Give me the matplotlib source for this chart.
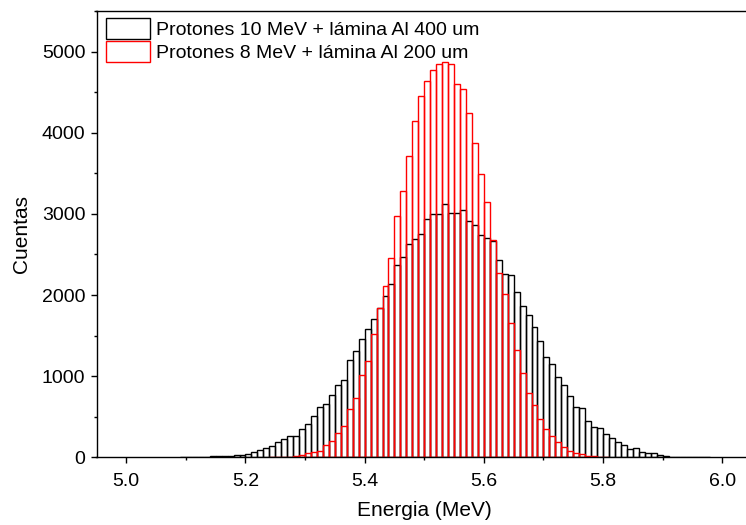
import numpy as np
import matplotlib.pyplot as plt
from matplotlib.ticker import MultipleLocator

plt.rcParams['font.family'] = ['Liberation Sans', 'DejaVu Sans']

bin_width = 0.01

# Protones 10 MeV + lamina Al 400 um, bins starting at 5.09 MeV
e0_black = 5.09
cuentas_black = [2, 3, 4, 6, 8, 10, 12, 18, 20, 25,
                 33, 45, 65, 90, 115, 145, 185, 220, 263, 263,
                 349, 415, 505, 620, 661, 762, 893, 953, 1200, 1311,
                 1455, 1578, 1705, 1837, 1993, 2141, 2367, 2474, 2626, 2688,
                 2750, 2935, 3004, 3004, 3123, 3008, 3008, 3049, 2914, 2864,
                 2741, 2700, 2671, 2429, 2260, 2244, 2040, 1870, 1755, 1603,
                 1434, 1241, 1152, 986, 885, 760, 616, 604, 453, 377,
                 355, 283, 242, 193, 150, 100, 111, 70, 49, 57,
                 33, 16, 8, 4, 8, 4, 2, 1, 1]

# Protones 8 MeV + lamina Al 200 um, bins starting at 5.24 MeV
e0_red = 5.24
cuentas_red = [2, 3, 5, 8, 16, 33, 49, 70, 82, 156,
               205, 296, 388, 598, 725, 1015, 1191, 1522, 1835, 2116,
               2450, 2975, 3280, 3715, 4150, 4447, 4640, 4776, 4850, 4868,
               4843, 4605, 4543, 4237, 3872, 3497, 3148, 2673, 2269, 2010,
               1650, 1319, 1043, 789, 641, 474, 343, 258, 189, 125,
               78, 49, 37, 14, 12, 4, 2]

label_black = 'Protones 10 MeV + lámina Al 400 um'
label_red = 'Protones 8 MeV + lámina Al 200 um'

edges_black = e0_black + bin_width * np.arange(len(cuentas_black))
edges_red = e0_red + bin_width * np.arange(len(cuentas_red))

fig = plt.figure(figsize=(7.46, 5.25), dpi=100)
ax = fig.add_axes([96.5 / 746, 67.7 / 525, 655.5 / 746, 446.3 / 525])

ax.bar(edges_black, cuentas_black, width=bin_width, align='edge',
       fill=False, edgecolor='black', linewidth=1.0, label=label_black)
ax.bar(edges_red, cuentas_red, width=bin_width, align='edge',
       fill=False, edgecolor='red', linewidth=1.0, label=label_red)

ax.set_xlim(4.95, 6.05)
ax.set_ylim(0, 5500)
ax.xaxis.set_major_locator(MultipleLocator(0.2))
ax.xaxis.set_minor_locator(MultipleLocator(0.1))
ax.yaxis.set_major_locator(MultipleLocator(1000))
ax.yaxis.set_minor_locator(MultipleLocator(500))
ax.xaxis.set_major_formatter(plt.FormatStrFormatter('%.1f'))
ax.tick_params(which='major', direction='out', length=4, width=1, labelsize=14)
ax.tick_params(which='minor', direction='out', length=2.5, width=1)
ax.tick_params(axis='x', which='major', pad=7.5)
ax.tick_params(axis='y', which='major', pad=4)
ax.spines['right'].set_visible(False)
for s in ['left', 'bottom', 'top']:
    ax.spines[s].set_linewidth(1.0)

ax.set_xlabel('Energia (MeV)', fontsize=15, labelpad=8)
ax.set_ylabel('Cuentas', fontsize=15, labelpad=8)

ax.legend(loc='upper left', bbox_to_anchor=(0.0139, 0.985), frameon=False,
          fontsize=14, handlelength=2.27, handleheight=1.29, handletextpad=0.33,
          labelspacing=0.1, borderpad=0, borderaxespad=0)

fig.savefig('out.png', dpi=100)
